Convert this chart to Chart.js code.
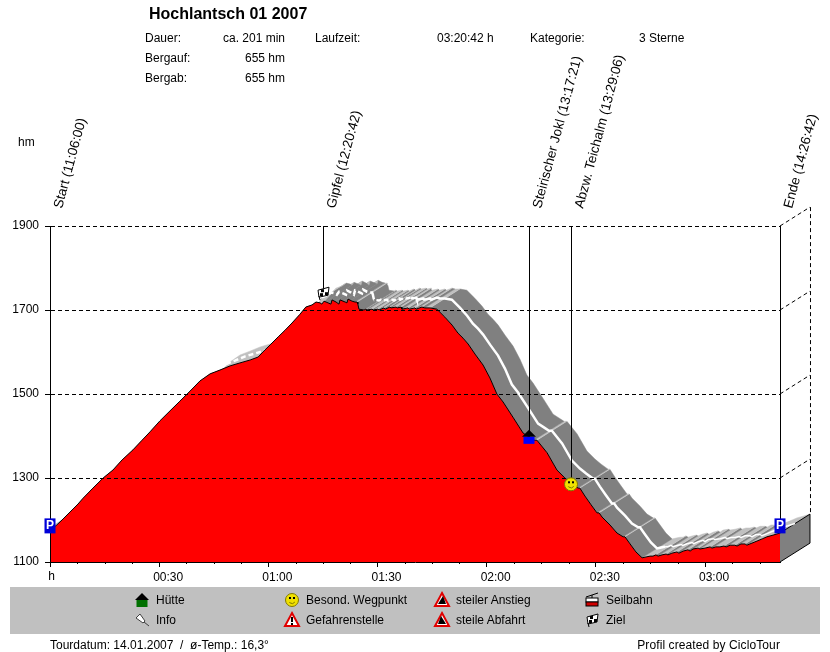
<!DOCTYPE html>
<html>
<head>
<meta charset="utf-8">
<title>Hochlantsch 01 2007</title>
<script src="https://cdn.jsdelivr.net/npm/chart.js@4"></script>
<style>
    html, body { margin: 0; padding: 0; background: #fff; }
    #page { position: relative; width: 830px; height: 652px; overflow: hidden; font: 12px "Liberation Sans", Arial, sans-serif; color: #000; }
    #page div.t { position: absolute; white-space: pre; line-height: 14px; }
    #legendBox { position: absolute; left: 10px; top: 587px; width: 810px; height: 47px; background: #c0c0c0; }
    #profile { position: absolute; left: 0; top: 0; }
</style>
</head>
<body>
<div id="page">
    <div id="legendBox"></div>
    <canvas id="profile" width="830" height="652"></canvas>
</div>
<script>
// elevation profile: minutes since start / hm
const profileTimes = [
    0, 1.6, 3.3, 5.5, 7.7, 9.1, 11.8, 14.6, 17.3, 19.8, 22.8, 25.3, 27.5, 30.2, 33.0, 35.7, 38.5, 41.2, 44.0, 46.7,
    49.5, 52.2, 55.0, 57.2, 58.5, 60.5, 62.7, 64.6, 66.5, 68.7, 70.3, 72.0, 73.1, 74.2, 74.7, 75.3, 76.4, 77.2, 77.5,
    78.6, 79.4, 79.7, 81.1, 81.6, 81.9, 83.0, 83.8, 84.4, 84.6, 84.9, 86.3, 86.8, 87.1, 88.5, 88.8, 90.1, 90.4, 91.8,
    92.1, 93.4, 93.7, 95.1, 95.4, 96.5, 96.7, 98.4, 98.7, 100.3, 100.6, 102.2, 103.0, 104.4, 106.3, 108.5, 110.5,
    112.1, 113.5, 114.9, 116.8, 119.0, 120.9, 122.8, 124.5, 127.2, 130.0, 131.6, 133.0, 133.8, 136.6, 139.3, 141.5,
    143.2, 145.1, 145.6, 147.0, 148.7, 150.3, 150.9, 151.7, 153.9, 155.8, 157.5, 158.0, 159.4, 161.0, 162.7, 163.8,
    164.9, 165.7, 166.5, 167.1, 168.2, 169.3, 169.8, 170.9, 172.3, 172.8, 174.0, 175.3, 175.9, 176.7, 178.1, 178.6,
    180.0, 181.4, 181.9, 183.0, 184.1, 185.2, 185.8, 186.9, 188.2, 188.8, 189.9, 191.0, 191.5, 192.9, 194.3, 195.7,
    197.0, 198.7, 200.6
];
const profileElev = [
    1183, 1186, 1200, 1219, 1238, 1252, 1276, 1300, 1319, 1343, 1367, 1390, 1410, 1436, 1460, 1483, 1507, 1531, 1548, 1557,
    1567, 1574, 1581, 1588, 1600, 1617, 1636, 1652, 1669, 1690, 1707, 1712, 1719, 1717, 1714, 1721, 1717, 1714, 1724,
    1719, 1714, 1724, 1719, 1717, 1726, 1721, 1719, 1719, 1714, 1702, 1700, 1702, 1700, 1702, 1700, 1702, 1700, 1705,
    1702, 1707, 1705, 1707, 1705, 1707, 1702, 1705, 1702, 1705, 1702, 1707, 1705, 1705, 1702, 1683, 1664,
    1645, 1633, 1619, 1595, 1569, 1538, 1500, 1481, 1445, 1407, 1398, 1390, 1390, 1360, 1319, 1300,
    1288, 1276, 1276, 1257, 1236, 1217, 1217, 1207, 1188, 1169, 1160, 1160, 1143, 1124, 1110, 1112,
    1114, 1114, 1117, 1114, 1117, 1119, 1117, 1121, 1124, 1121, 1126, 1129, 1126, 1131, 1133, 1131,
    1133, 1136, 1133, 1136, 1136, 1138, 1136, 1140, 1140, 1138, 1143, 1143, 1140, 1145, 1150, 1155,
    1160, 1164, 1169
];

const elevTicks = [1100, 1300, 1500, 1700, 1900];
const timeTicks = [0, 30, 60, 90, 120, 150, 180];
const timeTickLabels = ['h', '00:30', '01:00', '01:30', '02:00', '02:30', '03:00'];

const waypointNames = ['Start (11:06:00)', 'Gipfel (12:20:42)', 'Steirischer Jokl (13:17:21)', 'Abzw. Teichalm (13:29:06)', 'Ende (14:26:42)'];
const waypointTimes = [0, 75.0, 131.5, 143.1, 200.6];
const waypointElev = [1186, 1740, 1398, 1285, 1186];
const waypointIcons = ['parking', 'flag', 'hutBlue', 'smiley', 'parking'];

const summaryLabels = ['Dauer:', 'Bergauf:', 'Bergab:'];
const summaryValues = ['ca. 201 min', '655 hm', '655 hm'];

const legendNames = ['Hütte', 'Info', 'Besond. Wegpunkt', 'Gefahrenstelle', 'steiler Anstieg', 'steile Abfahrt', 'Seilbahn', 'Ziel'];
const legendIcons = ['hut', 'pin', 'smiley', 'danger', 'steepUp', 'steepDown', 'cable', 'flag'];

// 3D ribbon depth in data units
const DEPTH_T = 8.24;
const DEPTH_E = 45;

const RED = '#ff0000', DARK = '#808080', LIGHT = '#c0c0c0';

Chart.defaults.font.family = '"Liberation Sans", Arial, sans-serif';
Chart.defaults.font.size = 12;
Chart.defaults.color = '#000';

function addText(text, left, top, extra) {
    const el = document.createElement('div');
    el.className = 't';
    el.textContent = text;
    el.style.left = left + 'px';
    el.style.top = top + 'px';
    if (extra) Object.assign(el.style, extra);
    document.getElementById('page').appendChild(el);
}

function addPageTexts() {
    addText('Hochlantsch 01 2007', 149, 5, { font: 'bold 16px "Liberation Sans", Arial, sans-serif', lineHeight: '18px' });
    summaryLabels.forEach((label, i) => {
        addText(label, 145, 31 + i * 20);
        addText(summaryValues[i], 185, 31 + i * 20, { width: '100px', textAlign: 'right' });
    });
    addText('Laufzeit:', 315, 31);
    addText('03:20:42 h', 437, 31);
    addText('Kategorie:', 530, 31);
    addText('3 Sterne', 639, 31);
    addText('hm', 18, 135);
    legendNames.forEach((name, i) => {
        addText(name, 156 + Math.floor(i / 2) * 150, 593 + (i % 2) * 20);
    });
    addText('Tourdatum: 14.01.2007  /  ø-Temp.: 16,3°', 50, 638);
    addText('Profil created by CicloTour', 580, 638, { width: '200px', textAlign: 'right', letterSpacing: '0.1px' });
}

function polygon(points, color, order, border, borderWidth) {
    return {
        type: 'scatter',
        data: points,
        showLine: true,
        fill: 'shape',
        backgroundColor: color,
        borderColor: border || color,
        borderWidth: borderWidth === undefined ? 0.5 : borderWidth,
        pointRadius: 0,
        tension: 0,
        clip: false,
        order,
    };
}

// ribbon behind the profile, split in runs of falling (dark) and rising (light) stretches
function ribbonDatasets() {
    const sets = [];
    let i = 0;
    while (i < profileTimes.length - 1) {
        const falling = profileElev[i + 1] < profileElev[i];
        let j = i + 1;
        while (j < profileTimes.length - 1 && (profileElev[j + 1] < profileElev[j]) === falling) j++;
        const front = [], rear = [];
        for (let k = i; k <= j; k++) {
            front.push({ x: profileTimes[k], y: profileElev[k] });
            rear.unshift({ x: profileTimes[k] + DEPTH_T, y: profileElev[k] + DEPTH_E });
        }
        sets.push(polygon(front.concat(rear), falling ? DARK : LIGHT, 10));
        i = j;
    }
    return sets;
}

function endWall() {
    const t = profileTimes[profileTimes.length - 1];
    const e = profileElev[profileElev.length - 1];
    return polygon([
        { x: t, y: 1100 }, { x: t + DEPTH_T, y: 1100 + DEPTH_E },
        { x: t + DEPTH_T, y: e + DEPTH_E }, { x: t, y: e },
    ], DARK, 8, '#000', 1);
}

function centreLine() {
    return {
        type: 'scatter',
        data: profileTimes.map((t, i) => ({ x: t + DEPTH_T / 2, y: profileElev[i] + DEPTH_E / 2 })),
        showLine: true,
        fill: false,
        borderColor: '#fff',
        borderWidth: 2,
        pointRadius: 0,
        clip: false,
        order: 5,
        segment: {
            borderDash: (ctx) => (ctx.p0.parsed.x < 95 + DEPTH_T / 2 ? [5, 3] : undefined),
            borderWidth: (ctx) => (ctx.p0.parsed.x > 168 ? 1.5 : 2.5),
        },
    };
}

function profileArea() {
    return {
        type: 'scatter',
        data: profileTimes.map((t, i) => ({ x: t, y: profileElev[i] })),
        showLine: true,
        fill: 'start',
        backgroundColor: RED,
        borderColor: '#000',
        borderWidth: 1,
        pointRadius: 0,
        clip: false,
        order: 1,
    };
}

// --- icons, all drawn around a centre point
const icons = {
    parking(c, x, y) {
        c.fillStyle = '#0000d8';
        c.fillRect(x - 5.5, y - 7.5, 11, 15);
        c.fillStyle = '#fff';
        c.font = 'bold 12px "Liberation Sans", Arial, sans-serif';
        c.textAlign = 'center';
        c.textBaseline = 'middle';
        c.fillText('P', x, y);
    },
    hutBlue(c, x, y) { drawHut(c, x, y, '#0000ff'); },
    hut(c, x, y) { drawHut(c, x, y, '#007000'); },
    smiley(c, x, y) {
        c.beginPath();
        c.arc(x, y, 6.5, 0, Math.PI * 2);
        c.fillStyle = '#f0e000';
        c.fill();
        c.strokeStyle = '#807800';
        c.lineWidth = 1;
        c.stroke();
        c.fillStyle = '#000';
        c.fillRect(x - 3, y - 3, 2, 2);
        c.fillRect(x + 1, y - 3, 2, 2);
        c.beginPath();
        c.arc(x, y, 3.5, 0.2 * Math.PI, 0.8 * Math.PI);
        c.stroke();
    },
    flag(c, x, y) {
        c.fillStyle = '#fff';
        c.strokeStyle = '#000';
        c.lineWidth = 1;
        c.beginPath();
        c.moveTo(x - 5, y - 3);
        c.lineTo(x + 6, y - 6);
        c.lineTo(x + 5, y + 2);
        c.lineTo(x - 4, y + 4);
        c.closePath();
        c.fill();
        c.stroke();
        c.fillStyle = '#000';
        c.fillRect(x - 2, y - 4, 3, 3);
        c.fillRect(x + 2, y - 1, 3, 3);
        c.fillRect(x - 3, y, 3, 3);
        c.beginPath();
        c.moveTo(x - 4, y + 3);
        c.lineTo(x - 3, y + 7);
        c.stroke();
    },
    pin(c, x, y) {
        c.strokeStyle = '#404040';
        c.lineWidth = 1;
        c.fillStyle = '#fff';
        c.beginPath();
        c.moveTo(x - 2, y - 6);
        c.lineTo(x - 6, y - 2);
        c.lineTo(x + 1, y + 3);
        c.lineTo(x + 3, y + 1);
        c.closePath();
        c.fill();
        c.stroke();
        c.beginPath();
        c.moveTo(x + 2, y + 2);
        c.lineTo(x + 7, y + 6);
        c.stroke();
    },
    danger(c, x, y) {
        drawTriangle(c, x, y, '#fff');
        c.fillStyle = '#000';
        c.fillRect(x - 1, y - 3, 2, 5);
        c.fillRect(x - 1, y + 3, 2, 2);
    },
    steepUp(c, x, y) {
        drawTriangle(c, x, y, '#fff');
        c.fillStyle = '#000';
        c.beginPath();
        c.moveTo(x - 4, y + 4);
        c.lineTo(x + 1, y - 4);
        c.lineTo(x + 4, y + 4);
        c.closePath();
        c.fill();
    },
    steepDown(c, x, y) {
        drawTriangle(c, x, y, '#fff');
        c.fillStyle = '#000';
        c.beginPath();
        c.moveTo(x - 4, y + 4);
        c.lineTo(x - 1, y - 4);
        c.lineTo(x + 4, y + 4);
        c.closePath();
        c.fill();
    },
    cable(c, x, y) {
        c.strokeStyle = '#000';
        c.lineWidth = 1;
        c.beginPath();
        c.moveTo(x - 6, y - 3);
        c.lineTo(x + 6, y - 7);
        c.moveTo(x, y - 5);
        c.lineTo(x, y - 2);
        c.stroke();
        c.fillStyle = '#fff';
        c.fillRect(x - 6, y - 2, 12, 4);
        c.strokeRect(x - 6, y - 2, 12, 4);
        c.fillStyle = '#d00000';
        c.fillRect(x - 6, y + 2, 12, 4);
        c.strokeRect(x - 6, y + 2, 12, 4);
    },
};

function drawHut(c, x, y, color) {
    c.fillStyle = '#000';
    c.beginPath();
    c.moveTo(x - 7, y);
    c.lineTo(x, y - 7);
    c.lineTo(x + 7, y);
    c.closePath();
    c.fill();
    c.fillStyle = color;
    c.fillRect(x - 5.5, y, 11, 7);
}

function drawTriangle(c, x, y, fill) {
    c.beginPath();
    c.moveTo(x, y - 7);
    c.lineTo(x + 7, y + 6);
    c.lineTo(x - 7, y + 6);
    c.closePath();
    c.fillStyle = fill;
    c.fill();
    c.strokeStyle = '#e00000';
    c.lineWidth = 2;
    c.stroke();
}

// the filler clips to the chart area, but the ribbon runs on behind the right edge
const widenFillArea = {
    id: 'widenFillArea',
    beforeDatasetsDraw(chart) { chart.chartArea.right += 32; },
    afterDatasetsDraw(chart) { chart.chartArea.right -= 32; },
};

const profileDecor = {
    id: 'profileDecor',
    afterDraw(chart) {
        const c = chart.ctx;
        const xs = chart.scales.x;
        const ys = chart.scales.y;
        const tEnd = profileTimes[profileTimes.length - 1];
        const rearX = xs.getPixelForValue(tEnd + DEPTH_T);

        c.save();
        c.lineWidth = 1;
        c.strokeStyle = '#000';

        // dashed rear wall
        c.setLineDash([4, 3]);
        c.beginPath();
        elevTicks.forEach((v) => {
            if (v === 1100) return;
            c.moveTo(xs.getPixelForValue(tEnd), ys.getPixelForValue(v));
            c.lineTo(rearX, ys.getPixelForValue(v + DEPTH_E));
        });
        c.moveTo(rearX + 0.5, ys.getPixelForValue(1900 + DEPTH_E));
        c.lineTo(rearX + 0.5, ys.getPixelForValue(profileElev[profileElev.length - 1] + DEPTH_E));
        c.stroke();
        c.setLineDash([]);

        // small ticks between the labelled ones
        c.beginPath();
        for (let t = 7.5; t < tEnd; t += 7.5) {
            if (t % 30 === 0) continue;
            const px = Math.round(xs.getPixelForValue(t)) + 0.5;
            c.moveTo(px, ys.bottom);
            c.lineTo(px, ys.bottom + 2);
        }
        c.stroke();

        // leaders and rotated names
        waypointNames.forEach((name, i) => {
            const px = Math.round(xs.getPixelForValue(waypointTimes[i])) + 0.5;
            c.strokeStyle = '#000';
            c.lineWidth = 1;
            c.beginPath();
            c.moveTo(px, ys.top);
            c.lineTo(px, ys.getPixelForValue(waypointElev[i]));
            c.stroke();

            c.save();
            c.translate(px + 11.5, ys.top - 17);
            c.rotate(-75 * Math.PI / 180);
            c.fillStyle = '#000';
            c.font = '13.5px "Liberation Sans", Arial, sans-serif';
            c.textAlign = 'left';
            c.textBaseline = 'alphabetic';
            c.fillText(name, 0, 0);
            c.restore();
        });

        waypointIcons.forEach((icon, i) => {
            c.save();
            icons[icon](c, Math.round(xs.getPixelForValue(waypointTimes[i])), ys.getPixelForValue(waypointElev[i]));
            c.restore();
        });

        // the first x label sits right on the axis start
        c.fillStyle = '#000';
        c.font = '12px "Liberation Sans", Arial, sans-serif';
        c.textAlign = 'center';
        c.textBaseline = 'middle';
        c.fillText(timeTickLabels[0], xs.getPixelForValue(0) + 1.5, ys.bottom + 15);

        // legend symbols
        legendIcons.forEach((icon, i) => {
            c.save();
            icons[icon](c, 142 + Math.floor(i / 2) * 150, 600 + (i % 2) * 20);
            c.restore();
        });
        c.restore();
    },
};

addPageTexts();

new Chart(document.getElementById('profile'), {
    type: 'scatter',
    data: { datasets: [profileArea(), centreLine(), endWall()].concat(ribbonDatasets()) },
    plugins: [widenFillArea, profileDecor],
    options: {
        responsive: false,
        animation: false,
        events: [],
        layout: { padding: { top: 226, right: 50, left: 0, bottom: 0 } },
        plugins: { legend: { display: false }, tooltip: { enabled: false } },
        scales: {
            x: {
                type: 'linear',
                bounds: 'data',
                // limits set here and not in min/max, so the line past the end is not cut off
                afterDataLimits(scale) { scale.min = 0; scale.max = profileTimes[profileTimes.length - 1]; },
                afterBuildTicks(scale) { scale.ticks = timeTicks.map((v) => ({ value: v })); },
                afterFit(scale) { scale.height = 90; },
                grid: { drawOnChartArea: false, color: '#000', tickLength: 5 },
                border: { color: '#000', z: 2 },
                ticks: {
                    autoSkip: false,
                    maxRotation: 0,
                    labelOffset: 9,
                    padding: 3,
                    color: '#000',
                    callback: (v) => (v === 0 ? '' : timeTickLabels[timeTicks.indexOf(v)]),
                },
            },
            y: {
                min: 1100,
                max: 1900,
                afterBuildTicks(scale) { scale.ticks = elevTicks.map((v) => ({ value: v })); },
                afterFit(scale) { scale.width = 50; },
                grid: {
                    z: 1,
                    color: (ctx) => (ctx.tick && ctx.tick.value === 1100 ? 'rgba(0,0,0,0)' : '#000'),
                    tickColor: '#000',
                    tickLength: 5,
                    lineWidth: 1,
                },
                border: { color: '#000', z: 2, dash: [4, 3] },
                ticks: { padding: 6, color: '#000', callback: (v) => String(v) },
            },
        },
    },
});
</script>
</body>
</html>
